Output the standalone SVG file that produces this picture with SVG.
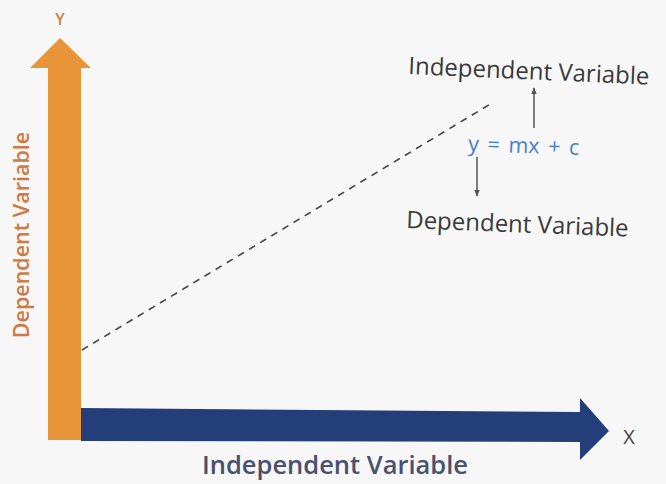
<svg xmlns="http://www.w3.org/2000/svg" width="666" height="484" viewBox="0 0 666 484">
<defs>
<marker id="ah" viewBox="0 0 10 10" refX="9" refY="5" markerWidth="7" markerHeight="7" orient="auto" markerUnits="userSpaceOnUse">
<path d="M0,1 L10,5 L0,9 Z" fill="#555"/>
</marker>
</defs>
<style>
.t{font-family:"Open Sans","DejaVu Sans",sans-serif}
.lbl{font-size:24px;fill:#3a3a3a}
.thin{stroke:#555;stroke-width:1.5;fill:none}
</style>
<rect width="666" height="484" fill="#f7f7f7"/>
<g id="y-axis">
<polygon points="48,440 81,440 81,68 91,68 60,38 30,68 48,68" fill="#e8953a"/>
<text class="t" x="60" y="25" font-size="16" font-weight="600" fill="#d0803e" text-anchor="middle">Y</text>
<text class="t" transform="translate(29,235) rotate(-90)" font-size="21.5" font-weight="600" fill="#cd7a45" text-anchor="middle">Dependent Variable</text>
</g>
<g id="x-axis">
<polygon points="81,408 580,412 580,398 609,431 580,460 580,442 81,441" fill="#233e79"/>
<text class="t" x="629" y="444" font-size="20" fill="#444" text-anchor="middle">X</text>
<text class="t" x="335" y="474" font-size="25.5" font-weight="600" fill="#4a5070" text-anchor="middle">Independent Variable</text>
</g>
<g id="connectors">
<line x1="82" y1="350" x2="492" y2="103" stroke="#444" stroke-width="1.6" stroke-dasharray="7,6"/>
<line class="thin" x1="534" y1="128" x2="534" y2="88" marker-end="url(#ah)"/>
<line class="thin" x1="477" y1="157" x2="477" y2="196" marker-end="url(#ah)"/>
</g>
<g id="equation">
<text class="t" x="468" y="151" font-size="21.5" fill="#4a7fc8" word-spacing="3" transform="rotate(2 468 151)">y = mx + c</text>
</g>
<g id="label-independent">
<text class="t lbl" x="408" y="74" transform="rotate(2.5 408 74)">Independent Variable</text>
</g>
<g id="label-dependent">
<text class="t lbl" x="406" y="228" transform="rotate(2.2 406 228)">Dependent Variable</text>
</g>
</svg>
